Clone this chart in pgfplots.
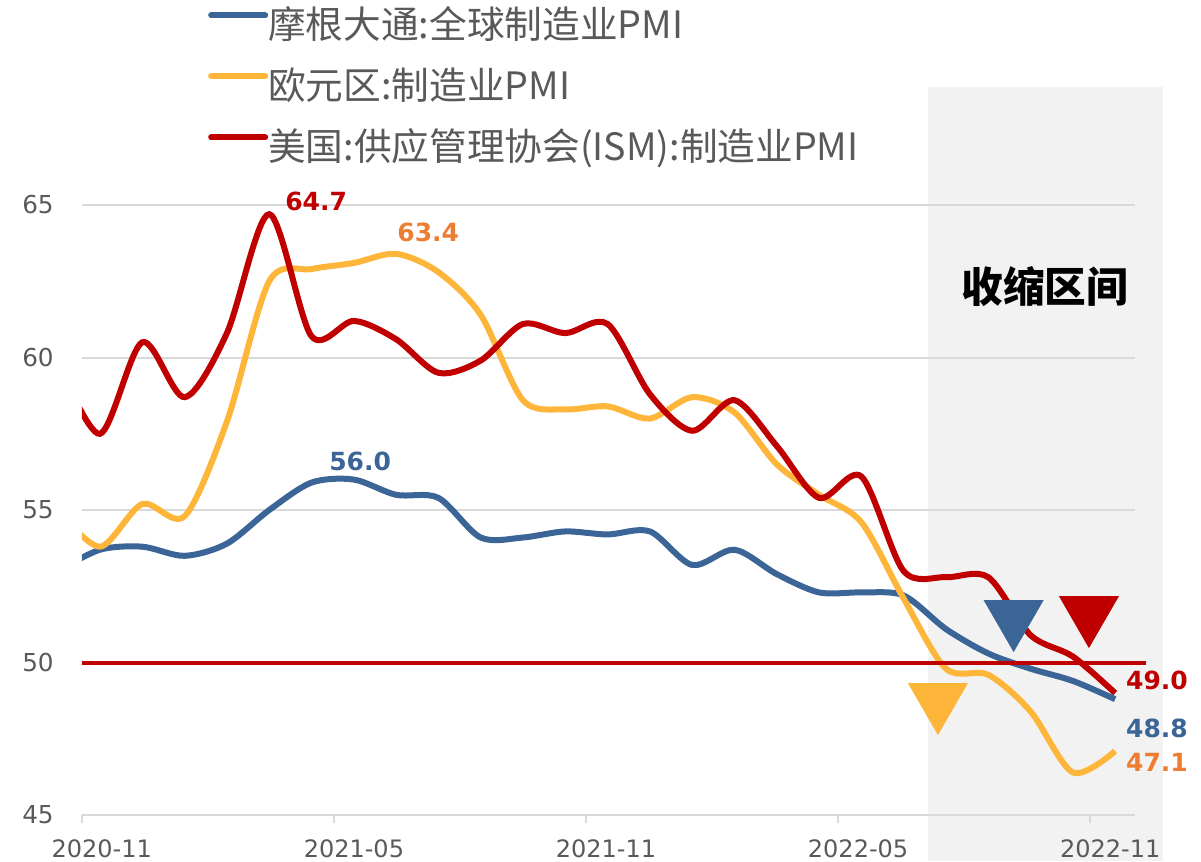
\documentclass[border=0pt]{standalone}
\usepackage{fontspec}
\usepackage{pgfplots}
\pgfplotsset{compat=1.18}
\setmainfont{DejaVu Sans}
\newfontfamily\cjk{Noto Sans CJK SC}
\definecolor{jpblue}{HTML}{3B6497}
\definecolor{euyellow}{HTML}{FDB53A}
\definecolor{isred}{HTML}{C00000}
\definecolor{lblorange}{HTML}{ED7D31}
\definecolor{shadegray}{HTML}{F2F2F2}
\definecolor{gridgray}{HTML}{D9D9D9}
\definecolor{txtgray}{HTML}{595959}

% month index: 0 = 2020-11
\pgfplotstableread{
i  jp   eu   ism
-1 53.0 55.0 59.9
0  53.7 53.8 57.5
1  53.8 55.2 60.5
2  53.5 54.8 58.7
3  53.9 57.9 60.8
4  55.0 62.5 64.7
5  55.9 62.9 60.7
6  56.0 63.1 61.2
7  55.5 63.4 60.6
8  55.4 62.8 59.5
9  54.1 61.4 59.9
10 54.1 58.6 61.1
11 54.3 58.3 60.8
12 54.2 58.4 61.1
13 54.3 58.0 58.8
14 53.2 58.7 57.6
15 53.7 58.2 58.6
16 52.9 56.5 57.1
17 52.3 55.5 55.4
18 52.3 54.6 56.1
19 52.2 52.1 53.0
20 51.1 49.8 52.8
21 50.3 49.6 52.8
22 49.8 48.4 50.9
23 49.4 46.4 50.2
24 48.8 47.1 49.0
}\pmi

\begin{document}
\begin{tikzpicture}
\begin{axis}[
  set layers,
  scale only axis,
  width=315.9pt, height=219.6pt,
  xmin=-0.43, xmax=24.47, ymin=45, ymax=69,
  clip mode=individual,
  axis x line*=bottom, axis y line*=left,
  x axis line style={gridgray, line width=0.6pt},
  y axis line style={draw=none},
  xtick={-0.43,5.53,11.49,17.45,23.41},
  xticklabels={2020-11,2021-05,2021-11,2022-05,2022-11},
  x tick style={gridgray, line width=0.6pt},
  tick align=outside, major tick length=2.4pt,
  xticklabel style={xshift=6pt, yshift=-1.5pt, font=\fontsize{7.2}{8}\selectfont, text=txtgray},
  ytick={45,50,55,60,65},
  y tick style={draw=none},
  ymajorgrids, grid style={gridgray, line width=0.6pt},
  yticklabel style={xshift=-2.5pt, font=\fontsize{7.4}{8}\selectfont, text=txtgray},
  /pgf/number format/assume math mode=true,
  legend style={at={(0.12,1.0991)}, anchor=north west, draw=none, fill=none,
    inner sep=0pt, outer sep=0pt,
    font=\cjk\fontsize{11.3}{12}\selectfont, text=txtgray,
    nodes={inner sep=0pt, text height=8.5pt, text depth=2.5pt},
    row sep=7.3pt, column sep=0pt},
  legend cell align=left,
  legend image code/.code={\draw[#1, line cap=round] (0pt,4pt) -- (16.2pt,4pt);},
]
\begin{pgfonlayer}{axis background}
\fill[shadegray] (axis cs:19.57,43.49) rectangle (axis cs:25.13,68.87);
\end{pgfonlayer}

\addplot[jpblue, line width=1.8pt, smooth, tension=0.5] table[x=i, y=jp] {\pmi};
\addlegendentry{摩根大通:全球制造业PMI}
\addplot[euyellow, line width=1.8pt, smooth, tension=0.5] table[x=i, y=eu] {\pmi};
\addlegendentry{欧元区:制造业PMI}
\addplot[isred, line width=1.8pt, smooth, tension=0.5] table[x=i, y=ism] {\pmi};
\addlegendentry{美国:供应管理协会(ISM):制造业PMI}

\draw[isred, line width=1.2pt] (axis cs:-0.43,50) -- (axis cs:24.72,50);

% markers
\addplot[only marks, mark=triangle*, mark size=10pt, euyellow, mark options={rotate=180}, forget plot] coordinates {(19.81,48.76)};
\addplot[only marks, mark=triangle*, mark size=10pt, jpblue, mark options={rotate=180}, forget plot] coordinates {(21.60,51.48)};
\addplot[only marks, mark=triangle*, mark size=10pt, isred, mark options={rotate=180}, forget plot] coordinates {(23.38,51.61)};

\node[font=\bfseries\fontsize{7.5}{9}\selectfont, text=isred] at (axis cs:5.11,65.13) {64.7};
\node[font=\bfseries\fontsize{7.5}{9}\selectfont, text=lblorange] at (axis cs:7.76,64.11) {63.4};
\node[font=\bfseries\fontsize{7.5}{9}\selectfont, text=jpblue] at (axis cs:6.15,56.61) {56.0};
\node[font=\bfseries\fontsize{7.5}{9}\selectfont, text=isred] at (axis cs:24.99,49.43) {49.0};
\node[font=\bfseries\fontsize{7.5}{9}\selectfont, text=jpblue] at (axis cs:24.99,47.85) {48.8};
\node[font=\bfseries\fontsize{7.5}{9}\selectfont, text=lblorange] at (axis cs:24.99,46.74) {47.1};
\node[font=\cjk\bfseries\fontsize{12.5}{14}\selectfont, text=black] at (axis cs:22.34,62.34) {收缩区间};

\coordinate (bbsw) at (axis cs:-2.364,43.49);
\coordinate (bbne) at (axis cs:26.03,71.72);
\end{axis}
\pgfresetboundingbox
\path[use as bounding box] (bbsw) rectangle (bbne);
\end{tikzpicture}
\end{document}
